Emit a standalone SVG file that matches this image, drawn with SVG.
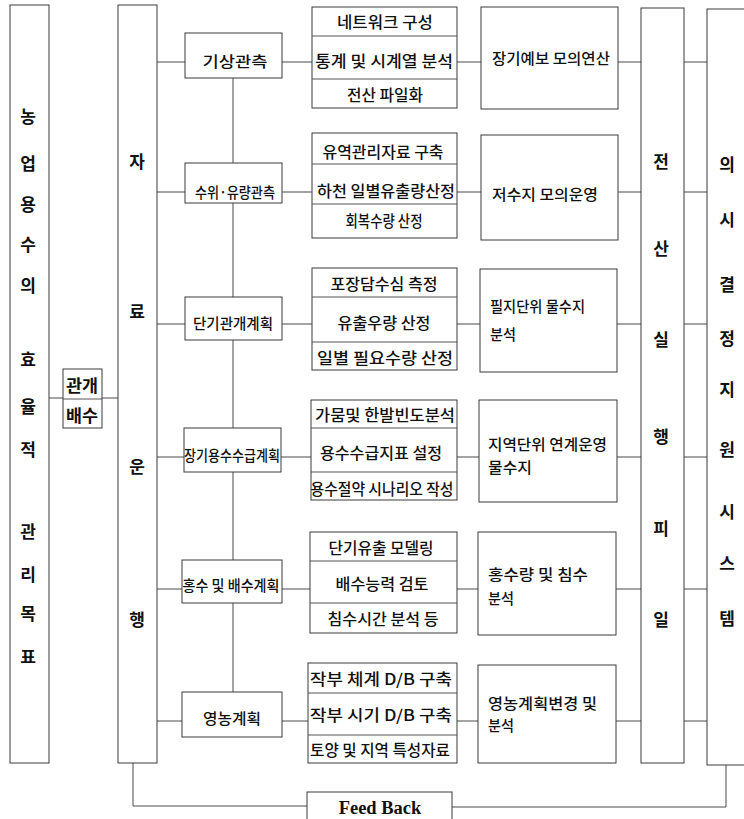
<svg xmlns="http://www.w3.org/2000/svg" width="744" height="819" viewBox="0 0 744 819">
<style>
.bx{fill:none;stroke:#3a3a3a;stroke-width:1}
.dv{stroke:#555;stroke-width:1}
.cn{fill:none;stroke:#4a4a4a;stroke-width:1}
text{font-family:"Noto Sans CJK KR","Noto Sans",sans-serif;fill:#111;dominant-baseline:central}
.col{font-size:17px;font-weight:700;text-anchor:middle}
.cat{font-size:15px;text-anchor:middle;font-weight:500}
.sub{font-size:15.5px;text-anchor:middle;font-weight:500}
.res{font-size:15px;font-weight:500}
.fb{font-family:"Liberation Serif",serif;font-size:18.5px;font-weight:700;text-anchor:middle}
</style>
<rect x="0" y="0" width="744" height="819" fill="#fff"/>

<g id="connectors">
  <line class="cn" x1="49" y1="398" x2="63" y2="398"/>
  <line class="cn" x1="102" y1="398" x2="118" y2="398"/>
  <line class="cn" x1="233" y1="78" x2="233" y2="163"/>
  <line class="cn" x1="233" y1="203" x2="233" y2="297"/>
  <line class="cn" x1="233" y1="340" x2="233" y2="428"/>
  <line class="cn" x1="233" y1="472" x2="233" y2="560"/>
  <line class="cn" x1="233" y1="603" x2="233" y2="692"/>
  <path class="cn" d="M157 62H185M282 62H312M457 62H481M618 62H641M684 62H707"/>
  <path class="cn" d="M157 192H185M282 192H312M457 192H481M618 192H641M684 192H707"/>
  <path class="cn" d="M157 324H185M282 324H312M457 324H480M617 324H641M684 324H707"/>
  <path class="cn" d="M157 457H184M281 457H311M457 457H479M617 457H641M684 457H707"/>
  <path class="cn" d="M157 589H182M282 589H310M457 589H478M616 589H641M684 589H707"/>
  <path class="cn" d="M157 721H182M282 721H308M457 721H478M616 721H641M684 721H707"/>
  <polyline class="cn" points="133,763 133,806 307,806"/>
  <polyline class="cn" points="452,807 726,807 726,765"/>
</g>

<g id="goal">
  <rect class="bx" x="10" y="5" width="39" height="758"/>
  <text class="col" x="28" y="115">농</text>
  <text class="col" x="28" y="162">업</text>
  <text class="col" x="28" y="203">용</text>
  <text class="col" x="28" y="243">수</text>
  <text class="col" x="28" y="284">의</text>
  <text class="col" x="28" y="358">효</text>
  <text class="col" x="28" y="405">율</text>
  <text class="col" x="28" y="448">적</text>
  <text class="col" x="28" y="530">관</text>
  <text class="col" x="28" y="573">리</text>
  <text class="col" x="28" y="612">목</text>
  <text class="col" x="28" y="655">표</text>
</g>

<g id="irrigation">
  <rect class="bx" x="63" y="369" width="39" height="59"/>
  <line class="dv" x1="63" y1="399" x2="102" y2="399"/>
  <text class="col" x="82" y="384" font-size="15.5" textLength="32" lengthAdjust="spacingAndGlyphs">관개</text>
  <text class="col" x="82" y="414" font-size="15.5" textLength="32" lengthAdjust="spacingAndGlyphs">배수</text>
</g>

<g id="data-ops">
  <rect class="bx" x="118" y="5" width="39" height="758"/>
  <text class="col" x="137" y="160">자</text>
  <text class="col" x="137" y="310">료</text>
  <text class="col" x="137" y="465">운</text>
  <text class="col" x="137" y="618">행</text>
</g>

<g id="cat1"><rect class="bx" x="185" y="33" width="97" height="45"/><text class="cat" x="235" y="60" textLength="65" lengthAdjust="spacingAndGlyphs">기상관측</text></g>
<g id="cat2"><rect class="bx" x="185" y="163" width="97" height="40"/><text class="cat" x="235" y="191" textLength="80" lengthAdjust="spacingAndGlyphs">수위·유량관측</text></g>
<g id="cat3"><rect class="bx" x="185" y="297" width="97" height="43"/><text class="cat" x="233" y="322" textLength="80" lengthAdjust="spacingAndGlyphs">단기관개계획</text></g>
<g id="cat4"><rect class="bx" x="184" y="428" width="97" height="44"/><text class="cat" x="232" y="454" textLength="96" lengthAdjust="spacingAndGlyphs">장기용수수급계획</text></g>
<g id="cat5"><rect class="bx" x="182" y="560" width="100" height="43"/><text class="cat" x="231" y="584" textLength="97" lengthAdjust="spacingAndGlyphs">홍수 및 배수계획</text></g>
<g id="cat6"><rect class="bx" x="182" y="692" width="100" height="45"/><text class="cat" x="232" y="717" textLength="58" lengthAdjust="spacingAndGlyphs">영농계획</text></g>

<g id="sub1">
  <rect class="bx" x="312" y="7" width="145" height="101"/>
  <line class="dv" x1="312" y1="36" x2="457" y2="36"/><line class="dv" x1="312" y1="79" x2="457" y2="79"/>
  <text class="sub" x="385" y="21" textLength="96" lengthAdjust="spacingAndGlyphs">네트워크 구성</text>
  <text class="sub" x="384" y="60" textLength="138" lengthAdjust="spacingAndGlyphs">통계 및 시계열 분석</text>
  <text class="sub" x="385" y="94" textLength="76" lengthAdjust="spacingAndGlyphs">전산 파일화</text>
</g>
<g id="sub2">
  <rect class="bx" x="312" y="133" width="145" height="105"/>
  <line class="dv" x1="312" y1="164" x2="457" y2="164"/><line class="dv" x1="312" y1="204" x2="457" y2="204"/>
  <text class="sub" x="383" y="151" textLength="121" lengthAdjust="spacingAndGlyphs">유역관리자료 구축</text>
  <text class="sub" x="386" y="190" textLength="138" lengthAdjust="spacingAndGlyphs">하천 일별유출량산정</text>
  <text class="sub" x="384" y="220" textLength="77" lengthAdjust="spacingAndGlyphs">회복수량 산정</text>
</g>
<g id="sub3">
  <rect class="bx" x="312" y="268" width="145" height="102"/>
  <line class="dv" x1="312" y1="297" x2="457" y2="297"/><line class="dv" x1="312" y1="342" x2="457" y2="342"/>
  <text class="sub" x="384" y="283" textLength="107" lengthAdjust="spacingAndGlyphs">포장담수심 측정</text>
  <text class="sub" x="384" y="322" textLength="93" lengthAdjust="spacingAndGlyphs">유출우량 산정</text>
  <text class="sub" x="385" y="357" textLength="136" lengthAdjust="spacingAndGlyphs">일별 필요수량 산정</text>
</g>
<g id="sub4">
  <rect class="bx" x="311" y="400" width="146" height="100"/>
  <line class="dv" x1="311" y1="428" x2="457" y2="428"/><line class="dv" x1="311" y1="472" x2="457" y2="472"/>
  <text class="sub" x="385" y="414" textLength="140" lengthAdjust="spacingAndGlyphs">가뭄및 한발빈도분석</text>
  <text class="sub" x="381" y="452" textLength="122" lengthAdjust="spacingAndGlyphs">용수수급지표 설정</text>
  <text class="sub" x="382" y="488" textLength="143" lengthAdjust="spacingAndGlyphs">용수절약 시나리오 작성</text>
</g>
<g id="sub5">
  <rect class="bx" x="310" y="532" width="147" height="101"/>
  <line class="dv" x1="310" y1="561" x2="457" y2="561"/><line class="dv" x1="310" y1="603" x2="457" y2="603"/>
  <text class="sub" x="381" y="547" textLength="105" lengthAdjust="spacingAndGlyphs">단기유출 모델링</text>
  <text class="sub" x="382" y="583" textLength="93" lengthAdjust="spacingAndGlyphs">배수능력 검토</text>
  <text class="sub" x="383" y="618" textLength="111" lengthAdjust="spacingAndGlyphs">침수시간 분석 등</text>
</g>
<g id="sub6">
  <rect class="bx" x="308" y="663" width="149" height="100"/>
  <line class="dv" x1="308" y1="693" x2="457" y2="693"/><line class="dv" x1="308" y1="735" x2="457" y2="735"/>
  <text class="sub" x="381" y="678" textLength="142" lengthAdjust="spacingAndGlyphs">작부 체계 D/B 구축</text>
  <text class="sub" x="381" y="714" textLength="142" lengthAdjust="spacingAndGlyphs">작부 시기 D/B 구축</text>
  <text class="sub" x="380" y="749" textLength="140" lengthAdjust="spacingAndGlyphs">토양 및 지역 특성자료</text>
</g>

<g id="res1"><rect class="bx" x="481" y="7" width="137" height="102"/><text class="res" x="492" y="57" textLength="118" lengthAdjust="spacingAndGlyphs">장기예보 모의연산</text></g>
<g id="res2"><rect class="bx" x="481" y="135" width="137" height="105"/><text class="res" x="492" y="193" textLength="106" lengthAdjust="spacingAndGlyphs">저수지 모의운영</text></g>
<g id="res3"><rect class="bx" x="480" y="269" width="137" height="103"/><text class="res" x="490" y="305" textLength="95" lengthAdjust="spacingAndGlyphs">필지단위 물수지</text><text class="res" x="490" y="333" textLength="26" lengthAdjust="spacingAndGlyphs">분석</text></g>
<g id="res4"><rect class="bx" x="479" y="400" width="138" height="102"/><text class="res" x="488" y="443" textLength="119" lengthAdjust="spacingAndGlyphs">지역단위 연계운영</text><text class="res" x="488" y="466" textLength="44" lengthAdjust="spacingAndGlyphs">물수지</text></g>
<g id="res5"><rect class="bx" x="478" y="532" width="138" height="103"/><text class="res" x="488" y="573" textLength="100" lengthAdjust="spacingAndGlyphs">홍수량 및 침수</text><text class="res" x="488" y="597" textLength="26" lengthAdjust="spacingAndGlyphs">분석</text></g>
<g id="res6"><rect class="bx" x="478" y="665" width="138" height="98"/><text class="res" x="488" y="702" textLength="109" lengthAdjust="spacingAndGlyphs">영농계획변경 및</text><text class="res" x="488" y="724" textLength="26" lengthAdjust="spacingAndGlyphs">분석</text></g>

<g id="exec-file">
  <rect class="bx" x="641" y="8" width="43" height="755"/>
  <text class="col" x="661" y="160">전</text>
  <text class="col" x="661" y="247">산</text>
  <text class="col" x="661" y="338">실</text>
  <text class="col" x="661" y="435">행</text>
  <text class="col" x="661" y="527">피</text>
  <text class="col" x="661" y="618">일</text>
</g>

<g id="dss">
  <rect class="bx" x="707" y="9" width="40" height="756"/>
  <text class="col" x="727" y="163">의</text>
  <text class="col" x="727" y="218">시</text>
  <text class="col" x="727" y="283">결</text>
  <text class="col" x="727" y="337">정</text>
  <text class="col" x="727" y="388">지</text>
  <text class="col" x="727" y="448">원</text>
  <text class="col" x="727" y="510">시</text>
  <text class="col" x="727" y="562">스</text>
  <text class="col" x="727" y="617">템</text>
</g>

<g id="feedback">
  <rect class="bx" x="307" y="792" width="145" height="40"/>
  <text class="fb" x="380" y="808">Feed Back</text>
</g>
</svg>
